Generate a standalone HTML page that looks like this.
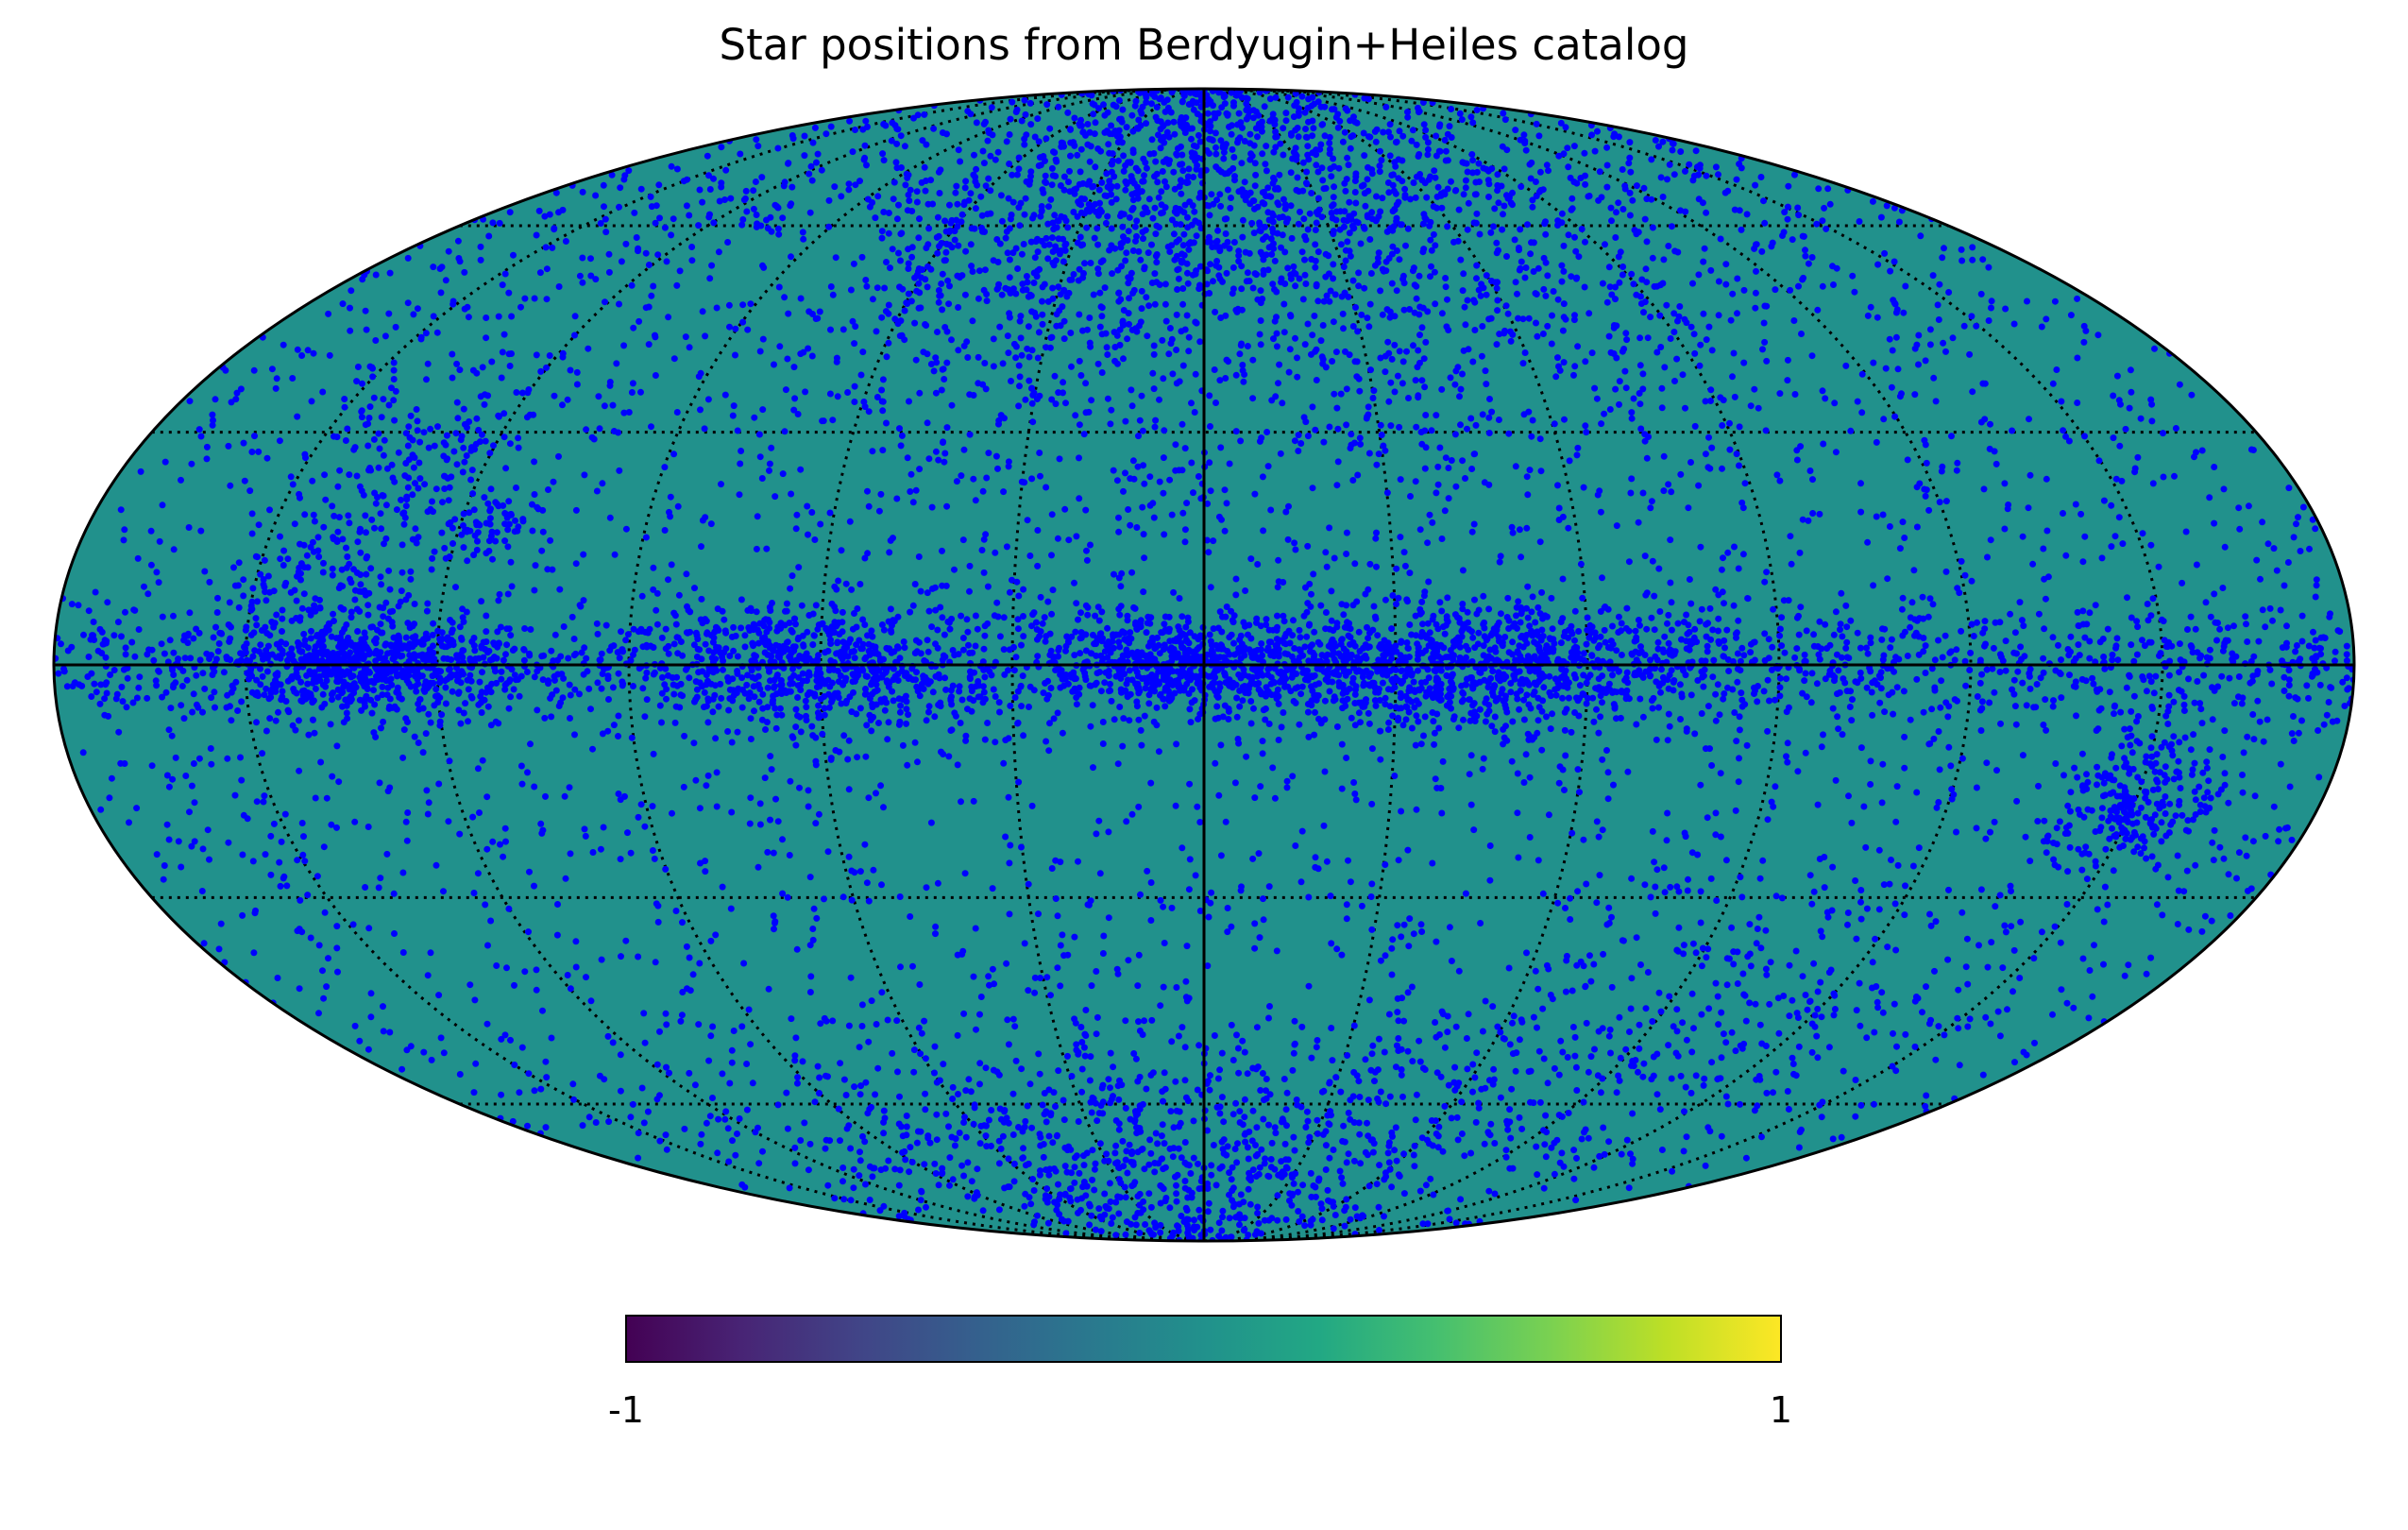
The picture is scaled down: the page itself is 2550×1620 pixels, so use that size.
<!DOCTYPE html>
<html><head><meta charset="utf-8">
<style>
html,body{margin:0;padding:0;background:#fff;}
svg{display:block;font-family:"DejaVu Sans","Liberation Sans",sans-serif;}
</style></head>
<body>
<svg id="chart" width="2550" height="1620" viewBox="0 0 2550 1620">
  <defs>
    <linearGradient id="viridis" x1="0" x2="1" y1="0" y2="0">
      <stop offset="0" stop-color="#440154"/><stop offset="0.1" stop-color="#482475"/>
      <stop offset="0.2" stop-color="#414487"/><stop offset="0.3" stop-color="#355f8d"/>
      <stop offset="0.4" stop-color="#2a788e"/><stop offset="0.5" stop-color="#21918c"/>
      <stop offset="0.6" stop-color="#22a884"/><stop offset="0.7" stop-color="#44bf70"/>
      <stop offset="0.8" stop-color="#7ad151"/><stop offset="0.9" stop-color="#bddf26"/>
      <stop offset="1" stop-color="#fde725"/>
    </linearGradient>
    <clipPath id="ellclip"><ellipse cx="1275" cy="704" rx="1218" ry="610"/></clipPath>
  </defs>
  <text x="1275" y="63" font-size="45" text-anchor="middle">Star positions from Berdyugin+Heiles catalog</text>
  <ellipse cx="1275" cy="704" rx="1218" ry="610" fill="#21918c"/>
  <g id="grat" clip-path="url(#ellclip)"></g>
  <g id="stars" clip-path="url(#ellclip)"></g>
  <line x1="57" y1="704" x2="2493" y2="704" stroke="#000" stroke-width="3"/>
  <line x1="1275" y1="94" x2="1275" y2="1314" stroke="#000" stroke-width="3"/>
  <ellipse cx="1275" cy="704" rx="1218" ry="610" fill="none" stroke="#000" stroke-width="3"/>
  <rect x="663" y="1393" width="1223" height="49" fill="url(#viridis)" stroke="#000" stroke-width="2"/>
  <text x="663" y="1506" font-size="38" text-anchor="middle">-1</text>
  <text x="1886" y="1506" font-size="38" text-anchor="middle">1</text>
</svg>
<script>
// Star density regions: [lonCenter, latCenter, lonSpread, latSpread, count]; spread>=180 means uniform in lon
const regionLon = [0, 0, 20, -40, 130, 115, -150, 20, 130, 60, 5, -40, -100, 0, 140, -10];
const regionLat = [0, 0, 55, 55, 25, 18, -17, -72, 0, 0, 0, 0, -45, 68, 10, -60];
const regionLonSpread = [180, 180, 35, 40, 10, 4, 7, 60, 12, 14, 10, 22, 25, 180, 8, 50];
const regionLatSpread = [90, 4, 18, 18, 7, 2, 5, 10, 3, 4, 3, 4, 12, 12, 5, 10];
const regionCount = [3000, 1400, 900, 700, 180, 50, 260, 600, 600, 550, 450, 900, 200, 700, 120, 250];
const meridians = [-150,-120,-90,-60,-30,30,60,90,120,150];
const parallels = [-60,-30,30,60];

const CX=1275, CY=704, RX=1218, RY=610;
function theta(phi){let t=phi;for(let i=0;i<30;i++){const f=2*t+Math.sin(2*t)-Math.PI*Math.sin(phi);const d=2+2*Math.cos(2*t);if(Math.abs(d)<1e-9)break;t-=f/d;}return t;}
function proj(lonDeg,latDeg){const lat=latDeg*Math.PI/180;const t=Math.abs(latDeg)>=89.999?Math.sign(latDeg)*Math.PI/2:theta(lat);
  return [CX - RX*(lonDeg/180)*Math.cos(t), CY - RY*Math.sin(t)];}
const NS="http://www.w3.org/2000/svg";
const grat=document.getElementById('grat');
meridians.forEach(m=>{let d="";for(let la=-90;la<=90;la+=1){const p=proj(m,la);d+=(la===-90?"M":"L")+p[0].toFixed(1)+" "+p[1].toFixed(1);}
  const el=document.createElementNS(NS,'path');el.setAttribute('d',d);el.setAttribute('fill','none');el.setAttribute('stroke','#000');el.setAttribute('stroke-width','3');el.setAttribute('stroke-dasharray','3 6');
  
  
  grat.appendChild(el);});
parallels.forEach(p=>{const a=proj(-180,p),b=proj(180,p);
  const el=document.createElementNS(NS,'line');el.setAttribute('x1',b[0]);el.setAttribute('x2',a[0]);el.setAttribute('y1',a[1]);el.setAttribute('y2',a[1]);el.setAttribute('stroke','#000');el.setAttribute('stroke-width','3');el.setAttribute('stroke-dasharray','3 6');
  
  
  grat.appendChild(el);});
let s=12345;function rnd(){s=(s*1103515245+12345)%2147483648;return s/2147483648;}
function gauss(){return Math.sqrt(-2*Math.log(rnd()+1e-9))*Math.cos(2*Math.PI*rnd());}
const stars=document.getElementById('stars');let dstr="";
for(let r=0;r<regionCount.length;r++){
  for(let i=0;i<regionCount[r];i++){let lon,lat;
    if(r===0){lon=-180+360*rnd();lat=Math.asin(2*rnd()-1)*180/Math.PI;}
    else if(regionLonSpread[r]>=180){lon=-180+360*rnd();lat=regionLat[r]+gauss()*regionLatSpread[r];}
    else{lon=regionLon[r]+gauss()*regionLonSpread[r];lat=regionLat[r]+gauss()*regionLatSpread[r];}
    if(lat>90||lat<-90)continue;lon=((lon+180)%360+360)%360-180;
    const p=proj(lon,lat);dstr+="M"+p[0].toFixed(1)+" "+p[1].toFixed(1)+"h0";}
}
const sp=document.createElementNS(NS,'path');sp.setAttribute('d',dstr);sp.setAttribute('stroke','#0000ff');sp.setAttribute('stroke-width','7');sp.setAttribute('stroke-linecap','round');


stars.appendChild(sp);
</script>
</body></html>
